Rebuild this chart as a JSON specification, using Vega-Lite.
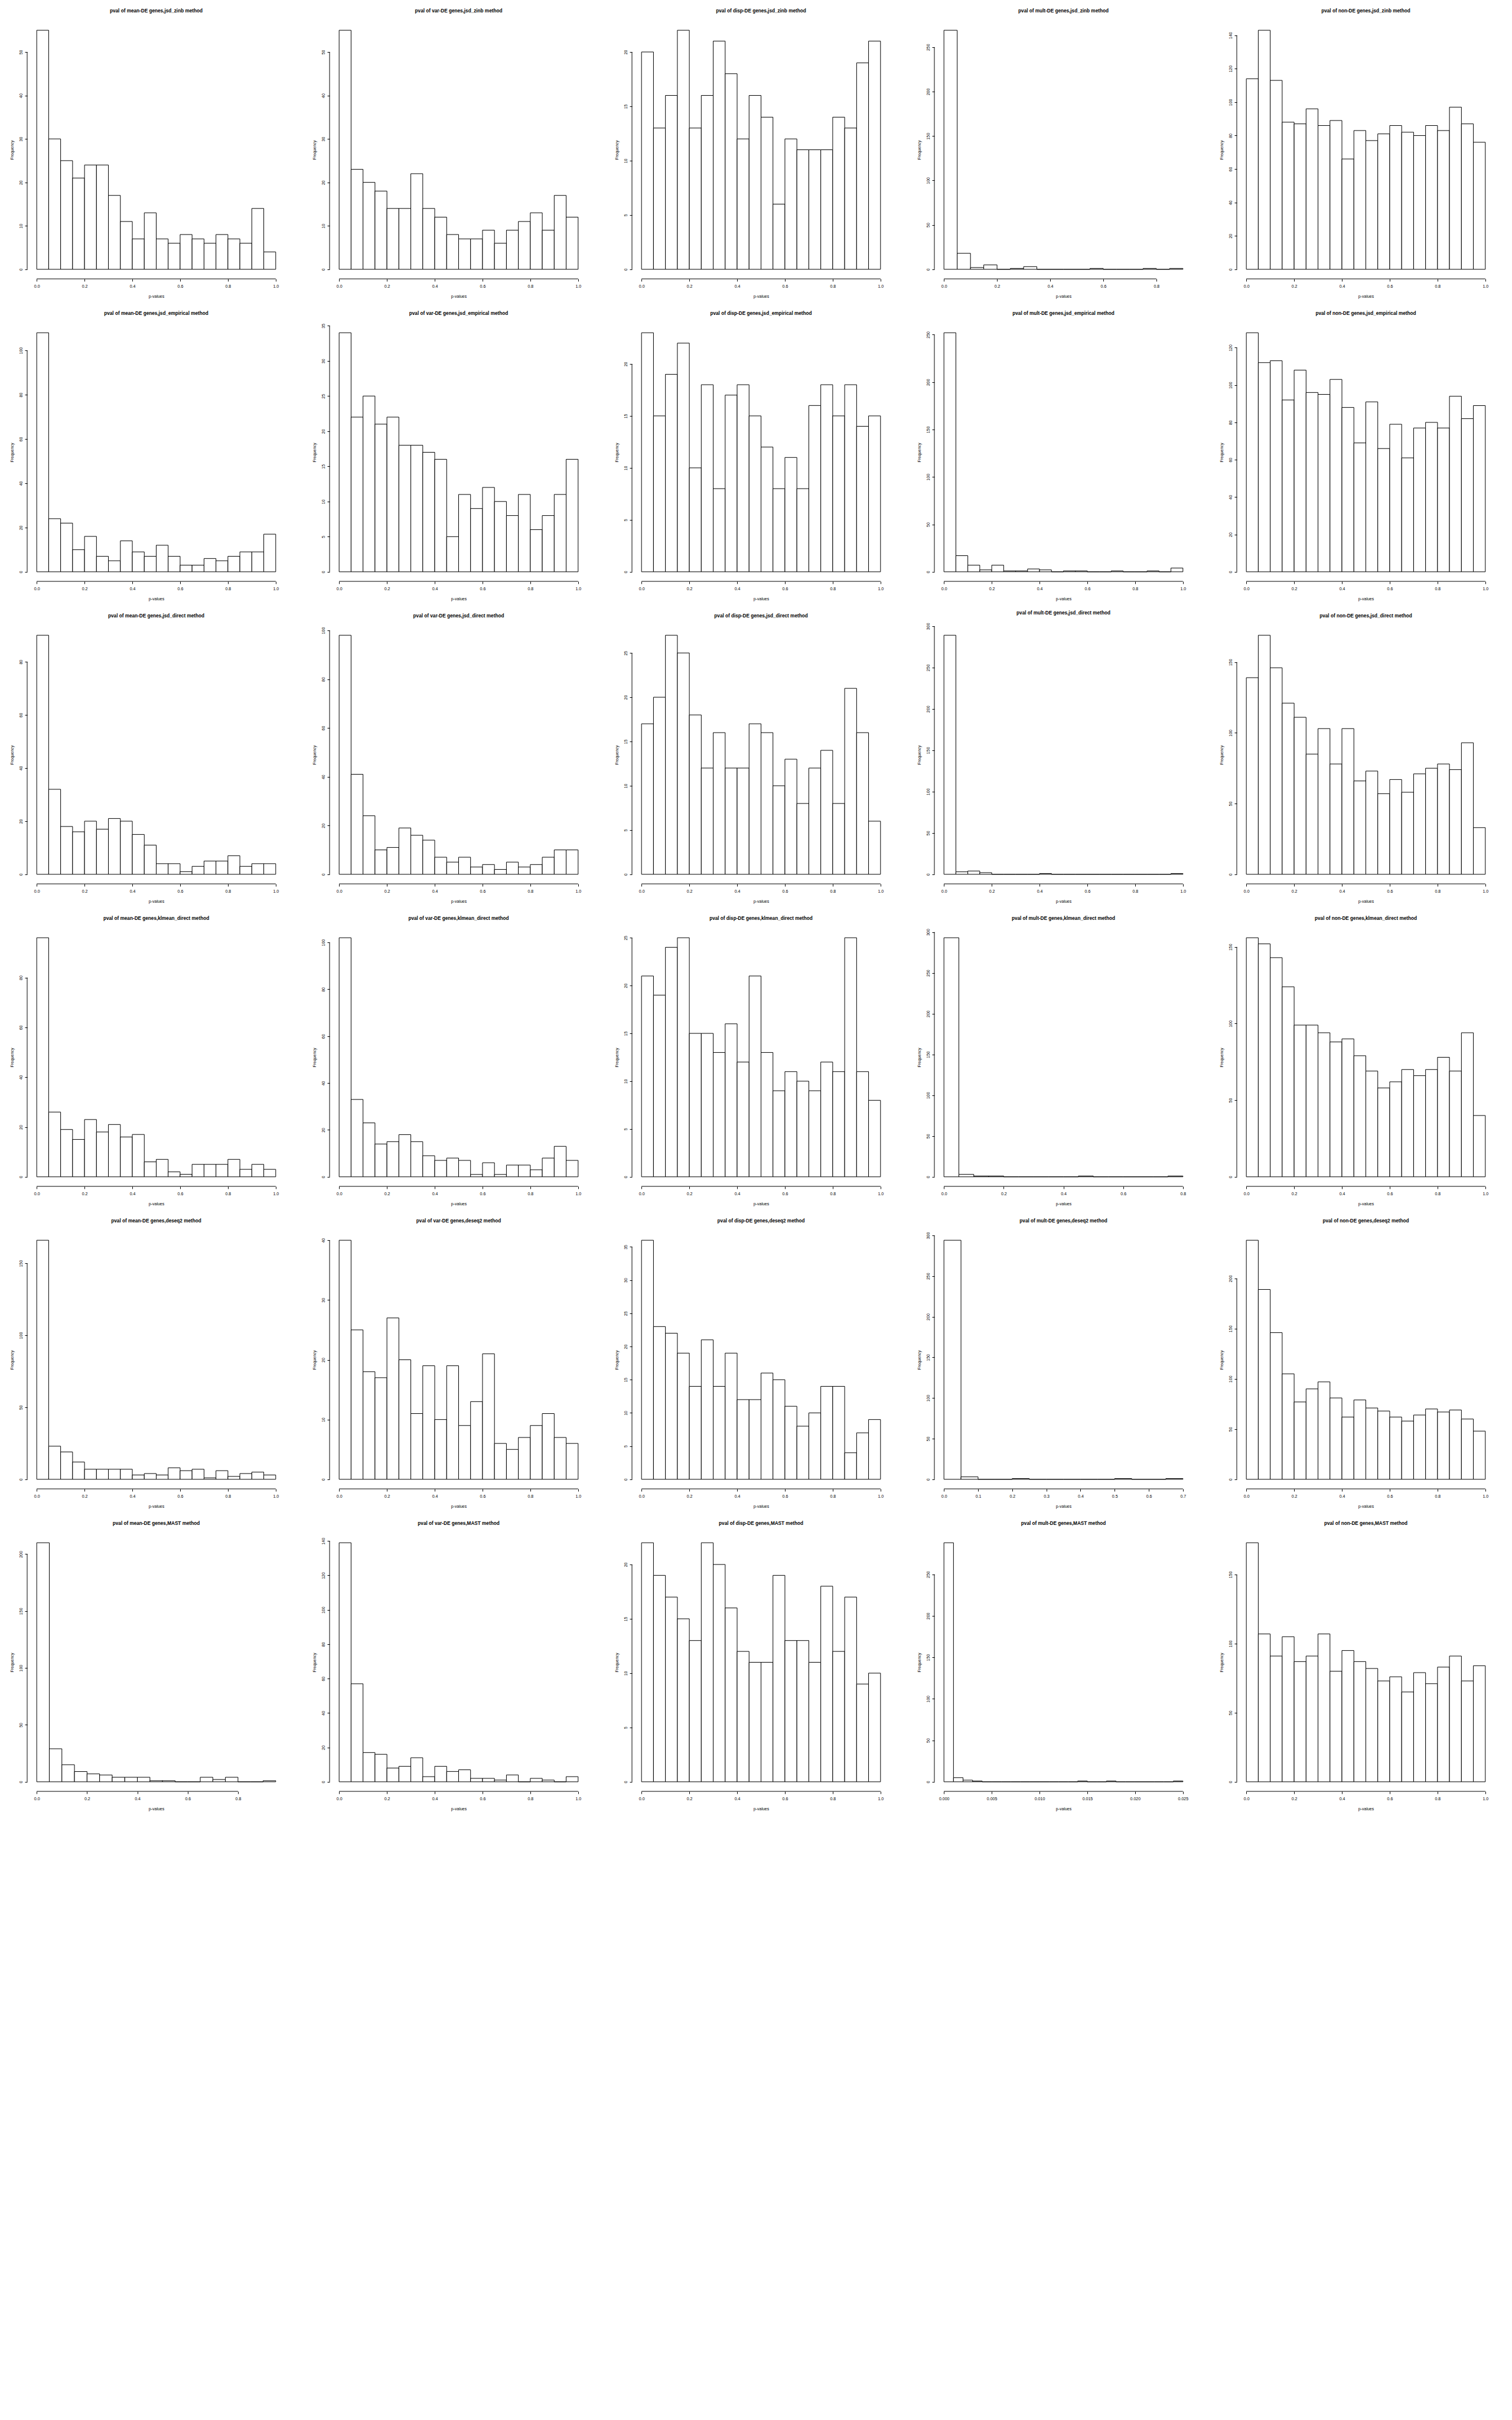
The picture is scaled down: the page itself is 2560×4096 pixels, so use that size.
{
"$schema": "https://vega.github.io/schema/vega-lite/v6.json",
"background": "white",
"autosize": {"type": "pad"},
"padding": {"left": 15, "top": 13, "right": 5, "bottom": 5},
"bounds": "flush",
"columns": 5,
"spacing": 75,
"datasets": {
"r1c1": [{"lo":0,"hi":0.05,"n":55},{"lo":0.05,"hi":0.1,"n":30},{"lo":0.1,"hi":0.15,"n":25},{"lo":0.15,"hi":0.2,"n":21},{"lo":0.2,"hi":0.25,"n":24},{"lo":0.25,"hi":0.3,"n":24},{"lo":0.3,"hi":0.35,"n":17},{"lo":0.35,"hi":0.4,"n":11},{"lo":0.4,"hi":0.45,"n":7},{"lo":0.45,"hi":0.5,"n":13},{"lo":0.5,"hi":0.55,"n":7},{"lo":0.55,"hi":0.6,"n":6},{"lo":0.6,"hi":0.65,"n":8},{"lo":0.65,"hi":0.7,"n":7},{"lo":0.7,"hi":0.75,"n":6},{"lo":0.75,"hi":0.8,"n":8},{"lo":0.8,"hi":0.85,"n":7},{"lo":0.85,"hi":0.9,"n":6},{"lo":0.9,"hi":0.95,"n":14},{"lo":0.95,"hi":1,"n":4}],
"r1c2": [{"lo":0,"hi":0.05,"n":55},{"lo":0.05,"hi":0.1,"n":23},{"lo":0.1,"hi":0.15,"n":20},{"lo":0.15,"hi":0.2,"n":18},{"lo":0.2,"hi":0.25,"n":14},{"lo":0.25,"hi":0.3,"n":14},{"lo":0.3,"hi":0.35,"n":22},{"lo":0.35,"hi":0.4,"n":14},{"lo":0.4,"hi":0.45,"n":12},{"lo":0.45,"hi":0.5,"n":8},{"lo":0.5,"hi":0.55,"n":7},{"lo":0.55,"hi":0.6,"n":7},{"lo":0.6,"hi":0.65,"n":9},{"lo":0.65,"hi":0.7,"n":6},{"lo":0.7,"hi":0.75,"n":9},{"lo":0.75,"hi":0.8,"n":11},{"lo":0.8,"hi":0.85,"n":13},{"lo":0.85,"hi":0.9,"n":9},{"lo":0.9,"hi":0.95,"n":17},{"lo":0.95,"hi":1,"n":12}],
"r1c3": [{"lo":0,"hi":0.05,"n":20},{"lo":0.05,"hi":0.1,"n":13},{"lo":0.1,"hi":0.15,"n":16},{"lo":0.15,"hi":0.2,"n":22},{"lo":0.2,"hi":0.25,"n":13},{"lo":0.25,"hi":0.3,"n":16},{"lo":0.3,"hi":0.35,"n":21},{"lo":0.35,"hi":0.4,"n":18},{"lo":0.4,"hi":0.45,"n":12},{"lo":0.45,"hi":0.5,"n":16},{"lo":0.5,"hi":0.55,"n":14},{"lo":0.55,"hi":0.6,"n":6},{"lo":0.6,"hi":0.65,"n":12},{"lo":0.65,"hi":0.7,"n":11},{"lo":0.7,"hi":0.75,"n":11},{"lo":0.75,"hi":0.8,"n":11},{"lo":0.8,"hi":0.85,"n":14},{"lo":0.85,"hi":0.9,"n":13},{"lo":0.9,"hi":0.95,"n":19},{"lo":0.95,"hi":1,"n":21}],
"r1c4": [{"lo":0,"hi":0.05,"n":269},{"lo":0.05,"hi":0.1,"n":18},{"lo":0.1,"hi":0.15,"n":2},{"lo":0.15,"hi":0.2,"n":5},{"lo":0.2,"hi":0.25,"n":0},{"lo":0.25,"hi":0.3,"n":1},{"lo":0.3,"hi":0.35,"n":3},{"lo":0.35,"hi":0.4,"n":0},{"lo":0.4,"hi":0.45,"n":0},{"lo":0.45,"hi":0.5,"n":0},{"lo":0.5,"hi":0.55,"n":0},{"lo":0.55,"hi":0.6,"n":1},{"lo":0.6,"hi":0.65,"n":0},{"lo":0.65,"hi":0.7,"n":0},{"lo":0.7,"hi":0.75,"n":0},{"lo":0.75,"hi":0.8,"n":1},{"lo":0.8,"hi":0.85,"n":0},{"lo":0.85,"hi":0.9,"n":1}],
"r1c5": [{"lo":0,"hi":0.05,"n":114},{"lo":0.05,"hi":0.1,"n":143},{"lo":0.1,"hi":0.15,"n":113},{"lo":0.15,"hi":0.2,"n":88},{"lo":0.2,"hi":0.25,"n":87},{"lo":0.25,"hi":0.3,"n":96},{"lo":0.3,"hi":0.35,"n":86},{"lo":0.35,"hi":0.4,"n":89},{"lo":0.4,"hi":0.45,"n":66},{"lo":0.45,"hi":0.5,"n":83},{"lo":0.5,"hi":0.55,"n":77},{"lo":0.55,"hi":0.6,"n":81},{"lo":0.6,"hi":0.65,"n":86},{"lo":0.65,"hi":0.7,"n":82},{"lo":0.7,"hi":0.75,"n":80},{"lo":0.75,"hi":0.8,"n":86},{"lo":0.8,"hi":0.85,"n":83},{"lo":0.85,"hi":0.9,"n":97},{"lo":0.9,"hi":0.95,"n":87},{"lo":0.95,"hi":1,"n":76}],
"r2c1": [{"lo":0,"hi":0.05,"n":108},{"lo":0.05,"hi":0.1,"n":24},{"lo":0.1,"hi":0.15,"n":22},{"lo":0.15,"hi":0.2,"n":10},{"lo":0.2,"hi":0.25,"n":16},{"lo":0.25,"hi":0.3,"n":7},{"lo":0.3,"hi":0.35,"n":5},{"lo":0.35,"hi":0.4,"n":14},{"lo":0.4,"hi":0.45,"n":9},{"lo":0.45,"hi":0.5,"n":7},{"lo":0.5,"hi":0.55,"n":12},{"lo":0.55,"hi":0.6,"n":7},{"lo":0.6,"hi":0.65,"n":3},{"lo":0.65,"hi":0.7,"n":3},{"lo":0.7,"hi":0.75,"n":6},{"lo":0.75,"hi":0.8,"n":5},{"lo":0.8,"hi":0.85,"n":7},{"lo":0.85,"hi":0.9,"n":9},{"lo":0.9,"hi":0.95,"n":9},{"lo":0.95,"hi":1,"n":17}],
"r2c2": [{"lo":0,"hi":0.05,"n":34},{"lo":0.05,"hi":0.1,"n":22},{"lo":0.1,"hi":0.15,"n":25},{"lo":0.15,"hi":0.2,"n":21},{"lo":0.2,"hi":0.25,"n":22},{"lo":0.25,"hi":0.3,"n":18},{"lo":0.3,"hi":0.35,"n":18},{"lo":0.35,"hi":0.4,"n":17},{"lo":0.4,"hi":0.45,"n":16},{"lo":0.45,"hi":0.5,"n":5},{"lo":0.5,"hi":0.55,"n":11},{"lo":0.55,"hi":0.6,"n":9},{"lo":0.6,"hi":0.65,"n":12},{"lo":0.65,"hi":0.7,"n":10},{"lo":0.7,"hi":0.75,"n":8},{"lo":0.75,"hi":0.8,"n":11},{"lo":0.8,"hi":0.85,"n":6},{"lo":0.85,"hi":0.9,"n":8},{"lo":0.9,"hi":0.95,"n":11},{"lo":0.95,"hi":1,"n":16}],
"r2c3": [{"lo":0,"hi":0.05,"n":23},{"lo":0.05,"hi":0.1,"n":15},{"lo":0.1,"hi":0.15,"n":19},{"lo":0.15,"hi":0.2,"n":22},{"lo":0.2,"hi":0.25,"n":10},{"lo":0.25,"hi":0.3,"n":18},{"lo":0.3,"hi":0.35,"n":8},{"lo":0.35,"hi":0.4,"n":17},{"lo":0.4,"hi":0.45,"n":18},{"lo":0.45,"hi":0.5,"n":15},{"lo":0.5,"hi":0.55,"n":12},{"lo":0.55,"hi":0.6,"n":8},{"lo":0.6,"hi":0.65,"n":11},{"lo":0.65,"hi":0.7,"n":8},{"lo":0.7,"hi":0.75,"n":16},{"lo":0.75,"hi":0.8,"n":18},{"lo":0.8,"hi":0.85,"n":15},{"lo":0.85,"hi":0.9,"n":18},{"lo":0.9,"hi":0.95,"n":14},{"lo":0.95,"hi":1,"n":15}],
"r2c4": [{"lo":0,"hi":0.05,"n":252},{"lo":0.05,"hi":0.1,"n":17},{"lo":0.1,"hi":0.15,"n":7},{"lo":0.15,"hi":0.2,"n":2},{"lo":0.2,"hi":0.25,"n":7},{"lo":0.25,"hi":0.3,"n":1},{"lo":0.3,"hi":0.35,"n":1},{"lo":0.35,"hi":0.4,"n":3},{"lo":0.4,"hi":0.45,"n":2},{"lo":0.45,"hi":0.5,"n":0},{"lo":0.5,"hi":0.55,"n":1},{"lo":0.55,"hi":0.6,"n":1},{"lo":0.6,"hi":0.65,"n":0},{"lo":0.65,"hi":0.7,"n":0},{"lo":0.7,"hi":0.75,"n":1},{"lo":0.75,"hi":0.8,"n":0},{"lo":0.8,"hi":0.85,"n":0},{"lo":0.85,"hi":0.9,"n":1},{"lo":0.9,"hi":0.95,"n":0},{"lo":0.95,"hi":1,"n":4}],
"r2c5": [{"lo":0,"hi":0.05,"n":128},{"lo":0.05,"hi":0.1,"n":112},{"lo":0.1,"hi":0.15,"n":113},{"lo":0.15,"hi":0.2,"n":92},{"lo":0.2,"hi":0.25,"n":108},{"lo":0.25,"hi":0.3,"n":96},{"lo":0.3,"hi":0.35,"n":95},{"lo":0.35,"hi":0.4,"n":103},{"lo":0.4,"hi":0.45,"n":88},{"lo":0.45,"hi":0.5,"n":69},{"lo":0.5,"hi":0.55,"n":91},{"lo":0.55,"hi":0.6,"n":66},{"lo":0.6,"hi":0.65,"n":79},{"lo":0.65,"hi":0.7,"n":61},{"lo":0.7,"hi":0.75,"n":77},{"lo":0.75,"hi":0.8,"n":80},{"lo":0.8,"hi":0.85,"n":77},{"lo":0.85,"hi":0.9,"n":94},{"lo":0.9,"hi":0.95,"n":82},{"lo":0.95,"hi":1,"n":89}],
"r3c1": [{"lo":0,"hi":0.05,"n":90},{"lo":0.05,"hi":0.1,"n":32},{"lo":0.1,"hi":0.15,"n":18},{"lo":0.15,"hi":0.2,"n":16},{"lo":0.2,"hi":0.25,"n":20},{"lo":0.25,"hi":0.3,"n":17},{"lo":0.3,"hi":0.35,"n":21},{"lo":0.35,"hi":0.4,"n":20},{"lo":0.4,"hi":0.45,"n":15},{"lo":0.45,"hi":0.5,"n":11},{"lo":0.5,"hi":0.55,"n":4},{"lo":0.55,"hi":0.6,"n":4},{"lo":0.6,"hi":0.65,"n":1},{"lo":0.65,"hi":0.7,"n":3},{"lo":0.7,"hi":0.75,"n":5},{"lo":0.75,"hi":0.8,"n":5},{"lo":0.8,"hi":0.85,"n":7},{"lo":0.85,"hi":0.9,"n":3},{"lo":0.9,"hi":0.95,"n":4},{"lo":0.95,"hi":1,"n":4}],
"r3c2": [{"lo":0,"hi":0.05,"n":98},{"lo":0.05,"hi":0.1,"n":41},{"lo":0.1,"hi":0.15,"n":24},{"lo":0.15,"hi":0.2,"n":10},{"lo":0.2,"hi":0.25,"n":11},{"lo":0.25,"hi":0.3,"n":19},{"lo":0.3,"hi":0.35,"n":16},{"lo":0.35,"hi":0.4,"n":14},{"lo":0.4,"hi":0.45,"n":7},{"lo":0.45,"hi":0.5,"n":5},{"lo":0.5,"hi":0.55,"n":7},{"lo":0.55,"hi":0.6,"n":3},{"lo":0.6,"hi":0.65,"n":4},{"lo":0.65,"hi":0.7,"n":2},{"lo":0.7,"hi":0.75,"n":5},{"lo":0.75,"hi":0.8,"n":3},{"lo":0.8,"hi":0.85,"n":4},{"lo":0.85,"hi":0.9,"n":7},{"lo":0.9,"hi":0.95,"n":10},{"lo":0.95,"hi":1,"n":10}],
"r3c3": [{"lo":0,"hi":0.05,"n":17},{"lo":0.05,"hi":0.1,"n":20},{"lo":0.1,"hi":0.15,"n":27},{"lo":0.15,"hi":0.2,"n":25},{"lo":0.2,"hi":0.25,"n":18},{"lo":0.25,"hi":0.3,"n":12},{"lo":0.3,"hi":0.35,"n":16},{"lo":0.35,"hi":0.4,"n":12},{"lo":0.4,"hi":0.45,"n":12},{"lo":0.45,"hi":0.5,"n":17},{"lo":0.5,"hi":0.55,"n":16},{"lo":0.55,"hi":0.6,"n":10},{"lo":0.6,"hi":0.65,"n":13},{"lo":0.65,"hi":0.7,"n":8},{"lo":0.7,"hi":0.75,"n":12},{"lo":0.75,"hi":0.8,"n":14},{"lo":0.8,"hi":0.85,"n":8},{"lo":0.85,"hi":0.9,"n":21},{"lo":0.9,"hi":0.95,"n":16},{"lo":0.95,"hi":1,"n":6}],
"r3c4": [{"lo":0,"hi":0.05,"n":289},{"lo":0.05,"hi":0.1,"n":3},{"lo":0.1,"hi":0.15,"n":4},{"lo":0.15,"hi":0.2,"n":2},{"lo":0.2,"hi":0.25,"n":0},{"lo":0.25,"hi":0.3,"n":0},{"lo":0.3,"hi":0.35,"n":0},{"lo":0.35,"hi":0.4,"n":0},{"lo":0.4,"hi":0.45,"n":1},{"lo":0.45,"hi":0.5,"n":0},{"lo":0.5,"hi":0.55,"n":0},{"lo":0.55,"hi":0.6,"n":0},{"lo":0.6,"hi":0.65,"n":0},{"lo":0.65,"hi":0.7,"n":0},{"lo":0.7,"hi":0.75,"n":0},{"lo":0.75,"hi":0.8,"n":0},{"lo":0.8,"hi":0.85,"n":0},{"lo":0.85,"hi":0.9,"n":0},{"lo":0.9,"hi":0.95,"n":0},{"lo":0.95,"hi":1,"n":1}],
"r3c5": [{"lo":0,"hi":0.05,"n":139},{"lo":0.05,"hi":0.1,"n":169},{"lo":0.1,"hi":0.15,"n":146},{"lo":0.15,"hi":0.2,"n":121},{"lo":0.2,"hi":0.25,"n":111},{"lo":0.25,"hi":0.3,"n":85},{"lo":0.3,"hi":0.35,"n":103},{"lo":0.35,"hi":0.4,"n":78},{"lo":0.4,"hi":0.45,"n":103},{"lo":0.45,"hi":0.5,"n":66},{"lo":0.5,"hi":0.55,"n":73},{"lo":0.55,"hi":0.6,"n":57},{"lo":0.6,"hi":0.65,"n":67},{"lo":0.65,"hi":0.7,"n":58},{"lo":0.7,"hi":0.75,"n":71},{"lo":0.75,"hi":0.8,"n":75},{"lo":0.8,"hi":0.85,"n":78},{"lo":0.85,"hi":0.9,"n":74},{"lo":0.9,"hi":0.95,"n":93},{"lo":0.95,"hi":1,"n":33}],
"r4c1": [{"lo":0,"hi":0.05,"n":96},{"lo":0.05,"hi":0.1,"n":26},{"lo":0.1,"hi":0.15,"n":19},{"lo":0.15,"hi":0.2,"n":15},{"lo":0.2,"hi":0.25,"n":23},{"lo":0.25,"hi":0.3,"n":18},{"lo":0.3,"hi":0.35,"n":21},{"lo":0.35,"hi":0.4,"n":16},{"lo":0.4,"hi":0.45,"n":17},{"lo":0.45,"hi":0.5,"n":6},{"lo":0.5,"hi":0.55,"n":7},{"lo":0.55,"hi":0.6,"n":2},{"lo":0.6,"hi":0.65,"n":1},{"lo":0.65,"hi":0.7,"n":5},{"lo":0.7,"hi":0.75,"n":5},{"lo":0.75,"hi":0.8,"n":5},{"lo":0.8,"hi":0.85,"n":7},{"lo":0.85,"hi":0.9,"n":3},{"lo":0.9,"hi":0.95,"n":5},{"lo":0.95,"hi":1,"n":3}],
"r4c2": [{"lo":0,"hi":0.05,"n":102},{"lo":0.05,"hi":0.1,"n":33},{"lo":0.1,"hi":0.15,"n":23},{"lo":0.15,"hi":0.2,"n":14},{"lo":0.2,"hi":0.25,"n":15},{"lo":0.25,"hi":0.3,"n":18},{"lo":0.3,"hi":0.35,"n":15},{"lo":0.35,"hi":0.4,"n":9},{"lo":0.4,"hi":0.45,"n":7},{"lo":0.45,"hi":0.5,"n":8},{"lo":0.5,"hi":0.55,"n":7},{"lo":0.55,"hi":0.6,"n":1},{"lo":0.6,"hi":0.65,"n":6},{"lo":0.65,"hi":0.7,"n":1},{"lo":0.7,"hi":0.75,"n":5},{"lo":0.75,"hi":0.8,"n":5},{"lo":0.8,"hi":0.85,"n":3},{"lo":0.85,"hi":0.9,"n":8},{"lo":0.9,"hi":0.95,"n":13},{"lo":0.95,"hi":1,"n":7}],
"r4c3": [{"lo":0,"hi":0.05,"n":21},{"lo":0.05,"hi":0.1,"n":19},{"lo":0.1,"hi":0.15,"n":24},{"lo":0.15,"hi":0.2,"n":25},{"lo":0.2,"hi":0.25,"n":15},{"lo":0.25,"hi":0.3,"n":15},{"lo":0.3,"hi":0.35,"n":13},{"lo":0.35,"hi":0.4,"n":16},{"lo":0.4,"hi":0.45,"n":12},{"lo":0.45,"hi":0.5,"n":21},{"lo":0.5,"hi":0.55,"n":13},{"lo":0.55,"hi":0.6,"n":9},{"lo":0.6,"hi":0.65,"n":11},{"lo":0.65,"hi":0.7,"n":10},{"lo":0.7,"hi":0.75,"n":9},{"lo":0.75,"hi":0.8,"n":12},{"lo":0.8,"hi":0.85,"n":11},{"lo":0.85,"hi":0.9,"n":25},{"lo":0.9,"hi":0.95,"n":11},{"lo":0.95,"hi":1,"n":8}],
"r4c4": [{"lo":0,"hi":0.05,"n":293},{"lo":0.05,"hi":0.1,"n":3},{"lo":0.1,"hi":0.15,"n":1},{"lo":0.15,"hi":0.2,"n":1},{"lo":0.2,"hi":0.25,"n":0},{"lo":0.25,"hi":0.3,"n":0},{"lo":0.3,"hi":0.35,"n":0},{"lo":0.35,"hi":0.4,"n":0},{"lo":0.4,"hi":0.45,"n":0},{"lo":0.45,"hi":0.5,"n":1},{"lo":0.5,"hi":0.55,"n":0},{"lo":0.55,"hi":0.6,"n":0},{"lo":0.6,"hi":0.65,"n":0},{"lo":0.65,"hi":0.7,"n":0},{"lo":0.7,"hi":0.75,"n":0},{"lo":0.75,"hi":0.8,"n":1}],
"r4c5": [{"lo":0,"hi":0.05,"n":156},{"lo":0.05,"hi":0.1,"n":152},{"lo":0.1,"hi":0.15,"n":143},{"lo":0.15,"hi":0.2,"n":124},{"lo":0.2,"hi":0.25,"n":99},{"lo":0.25,"hi":0.3,"n":99},{"lo":0.3,"hi":0.35,"n":94},{"lo":0.35,"hi":0.4,"n":88},{"lo":0.4,"hi":0.45,"n":90},{"lo":0.45,"hi":0.5,"n":79},{"lo":0.5,"hi":0.55,"n":69},{"lo":0.55,"hi":0.6,"n":58},{"lo":0.6,"hi":0.65,"n":62},{"lo":0.65,"hi":0.7,"n":70},{"lo":0.7,"hi":0.75,"n":66},{"lo":0.75,"hi":0.8,"n":70},{"lo":0.8,"hi":0.85,"n":78},{"lo":0.85,"hi":0.9,"n":69},{"lo":0.9,"hi":0.95,"n":94},{"lo":0.95,"hi":1,"n":40}],
"r5c1": [{"lo":0,"hi":0.05,"n":166},{"lo":0.05,"hi":0.1,"n":23},{"lo":0.1,"hi":0.15,"n":19},{"lo":0.15,"hi":0.2,"n":12},{"lo":0.2,"hi":0.25,"n":7},{"lo":0.25,"hi":0.3,"n":7},{"lo":0.3,"hi":0.35,"n":7},{"lo":0.35,"hi":0.4,"n":7},{"lo":0.4,"hi":0.45,"n":3},{"lo":0.45,"hi":0.5,"n":4},{"lo":0.5,"hi":0.55,"n":3},{"lo":0.55,"hi":0.6,"n":8},{"lo":0.6,"hi":0.65,"n":6},{"lo":0.65,"hi":0.7,"n":7},{"lo":0.7,"hi":0.75,"n":1},{"lo":0.75,"hi":0.8,"n":6},{"lo":0.8,"hi":0.85,"n":2},{"lo":0.85,"hi":0.9,"n":4},{"lo":0.9,"hi":0.95,"n":5},{"lo":0.95,"hi":1,"n":3}],
"r5c2": [{"lo":0,"hi":0.05,"n":40},{"lo":0.05,"hi":0.1,"n":25},{"lo":0.1,"hi":0.15,"n":18},{"lo":0.15,"hi":0.2,"n":17},{"lo":0.2,"hi":0.25,"n":27},{"lo":0.25,"hi":0.3,"n":20},{"lo":0.3,"hi":0.35,"n":11},{"lo":0.35,"hi":0.4,"n":19},{"lo":0.4,"hi":0.45,"n":10},{"lo":0.45,"hi":0.5,"n":19},{"lo":0.5,"hi":0.55,"n":9},{"lo":0.55,"hi":0.6,"n":13},{"lo":0.6,"hi":0.65,"n":21},{"lo":0.65,"hi":0.7,"n":6},{"lo":0.7,"hi":0.75,"n":5},{"lo":0.75,"hi":0.8,"n":7},{"lo":0.8,"hi":0.85,"n":9},{"lo":0.85,"hi":0.9,"n":11},{"lo":0.9,"hi":0.95,"n":7},{"lo":0.95,"hi":1,"n":6}],
"r5c3": [{"lo":0,"hi":0.05,"n":36},{"lo":0.05,"hi":0.1,"n":23},{"lo":0.1,"hi":0.15,"n":22},{"lo":0.15,"hi":0.2,"n":19},{"lo":0.2,"hi":0.25,"n":14},{"lo":0.25,"hi":0.3,"n":21},{"lo":0.3,"hi":0.35,"n":14},{"lo":0.35,"hi":0.4,"n":19},{"lo":0.4,"hi":0.45,"n":12},{"lo":0.45,"hi":0.5,"n":12},{"lo":0.5,"hi":0.55,"n":16},{"lo":0.55,"hi":0.6,"n":15},{"lo":0.6,"hi":0.65,"n":11},{"lo":0.65,"hi":0.7,"n":8},{"lo":0.7,"hi":0.75,"n":10},{"lo":0.75,"hi":0.8,"n":14},{"lo":0.8,"hi":0.85,"n":14},{"lo":0.85,"hi":0.9,"n":4},{"lo":0.9,"hi":0.95,"n":7},{"lo":0.95,"hi":1,"n":9}],
"r5c4": [{"lo":0,"hi":0.05,"n":294},{"lo":0.05,"hi":0.1,"n":3},{"lo":0.1,"hi":0.15,"n":0},{"lo":0.15,"hi":0.2,"n":0},{"lo":0.2,"hi":0.25,"n":1},{"lo":0.25,"hi":0.3,"n":0},{"lo":0.3,"hi":0.35,"n":0},{"lo":0.35,"hi":0.4,"n":0},{"lo":0.4,"hi":0.45,"n":0},{"lo":0.45,"hi":0.5,"n":0},{"lo":0.5,"hi":0.55,"n":1},{"lo":0.55,"hi":0.6,"n":0},{"lo":0.6,"hi":0.65,"n":0},{"lo":0.65,"hi":0.7,"n":1}],
"r5c5": [{"lo":0,"hi":0.05,"n":238},{"lo":0.05,"hi":0.1,"n":189},{"lo":0.1,"hi":0.15,"n":146},{"lo":0.15,"hi":0.2,"n":105},{"lo":0.2,"hi":0.25,"n":77},{"lo":0.25,"hi":0.3,"n":90},{"lo":0.3,"hi":0.35,"n":97},{"lo":0.35,"hi":0.4,"n":81},{"lo":0.4,"hi":0.45,"n":62},{"lo":0.45,"hi":0.5,"n":79},{"lo":0.5,"hi":0.55,"n":71},{"lo":0.55,"hi":0.6,"n":68},{"lo":0.6,"hi":0.65,"n":62},{"lo":0.65,"hi":0.7,"n":58},{"lo":0.7,"hi":0.75,"n":64},{"lo":0.75,"hi":0.8,"n":70},{"lo":0.8,"hi":0.85,"n":67},{"lo":0.85,"hi":0.9,"n":69},{"lo":0.9,"hi":0.95,"n":60},{"lo":0.95,"hi":1,"n":48}],
"r6c1": [{"lo":0,"hi":0.05,"n":210},{"lo":0.05,"hi":0.1,"n":29},{"lo":0.1,"hi":0.15,"n":15},{"lo":0.15,"hi":0.2,"n":9},{"lo":0.2,"hi":0.25,"n":7},{"lo":0.25,"hi":0.3,"n":6},{"lo":0.3,"hi":0.35,"n":4},{"lo":0.35,"hi":0.4,"n":4},{"lo":0.4,"hi":0.45,"n":4},{"lo":0.45,"hi":0.5,"n":1},{"lo":0.5,"hi":0.55,"n":1},{"lo":0.55,"hi":0.6,"n":0},{"lo":0.6,"hi":0.65,"n":0},{"lo":0.65,"hi":0.7,"n":4},{"lo":0.7,"hi":0.75,"n":2},{"lo":0.75,"hi":0.8,"n":4},{"lo":0.8,"hi":0.85,"n":0},{"lo":0.85,"hi":0.9,"n":0},{"lo":0.9,"hi":0.95,"n":1}],
"r6c2": [{"lo":0,"hi":0.05,"n":139},{"lo":0.05,"hi":0.1,"n":57},{"lo":0.1,"hi":0.15,"n":17},{"lo":0.15,"hi":0.2,"n":16},{"lo":0.2,"hi":0.25,"n":8},{"lo":0.25,"hi":0.3,"n":9},{"lo":0.3,"hi":0.35,"n":14},{"lo":0.35,"hi":0.4,"n":3},{"lo":0.4,"hi":0.45,"n":9},{"lo":0.45,"hi":0.5,"n":6},{"lo":0.5,"hi":0.55,"n":7},{"lo":0.55,"hi":0.6,"n":2},{"lo":0.6,"hi":0.65,"n":2},{"lo":0.65,"hi":0.7,"n":1},{"lo":0.7,"hi":0.75,"n":4},{"lo":0.75,"hi":0.8,"n":0},{"lo":0.8,"hi":0.85,"n":2},{"lo":0.85,"hi":0.9,"n":1},{"lo":0.9,"hi":0.95,"n":0},{"lo":0.95,"hi":1,"n":3}],
"r6c3": [{"lo":0,"hi":0.05,"n":22},{"lo":0.05,"hi":0.1,"n":19},{"lo":0.1,"hi":0.15,"n":17},{"lo":0.15,"hi":0.2,"n":15},{"lo":0.2,"hi":0.25,"n":13},{"lo":0.25,"hi":0.3,"n":22},{"lo":0.3,"hi":0.35,"n":20},{"lo":0.35,"hi":0.4,"n":16},{"lo":0.4,"hi":0.45,"n":12},{"lo":0.45,"hi":0.5,"n":11},{"lo":0.5,"hi":0.55,"n":11},{"lo":0.55,"hi":0.6,"n":19},{"lo":0.6,"hi":0.65,"n":13},{"lo":0.65,"hi":0.7,"n":13},{"lo":0.7,"hi":0.75,"n":11},{"lo":0.75,"hi":0.8,"n":18},{"lo":0.8,"hi":0.85,"n":12},{"lo":0.85,"hi":0.9,"n":17},{"lo":0.9,"hi":0.95,"n":9},{"lo":0.95,"hi":1,"n":10}],
"r6c4": [{"lo":0,"hi":0.001,"n":288},{"lo":0.001,"hi":0.002,"n":5},{"lo":0.002,"hi":0.003,"n":2},{"lo":0.003,"hi":0.004,"n":1},{"lo":0.004,"hi":0.005,"n":0},{"lo":0.005,"hi":0.006,"n":0},{"lo":0.006,"hi":0.007,"n":0},{"lo":0.007,"hi":0.008,"n":0},{"lo":0.008,"hi":0.009,"n":0},{"lo":0.009,"hi":0.01,"n":0},{"lo":0.01,"hi":0.011,"n":0},{"lo":0.011,"hi":0.012,"n":0},{"lo":0.012,"hi":0.013,"n":0},{"lo":0.013,"hi":0.014,"n":0},{"lo":0.014,"hi":0.015,"n":1},{"lo":0.015,"hi":0.016,"n":0},{"lo":0.016,"hi":0.017,"n":0},{"lo":0.017,"hi":0.018,"n":1},{"lo":0.018,"hi":0.019,"n":0},{"lo":0.019,"hi":0.02,"n":0},{"lo":0.02,"hi":0.021,"n":0},{"lo":0.021,"hi":0.022,"n":0},{"lo":0.022,"hi":0.023,"n":0},{"lo":0.023,"hi":0.024,"n":0},{"lo":0.024,"hi":0.025,"n":1}],
"r6c5": [{"lo":0,"hi":0.05,"n":173},{"lo":0.05,"hi":0.1,"n":107},{"lo":0.1,"hi":0.15,"n":91},{"lo":0.15,"hi":0.2,"n":105},{"lo":0.2,"hi":0.25,"n":87},{"lo":0.25,"hi":0.3,"n":91},{"lo":0.3,"hi":0.35,"n":107},{"lo":0.35,"hi":0.4,"n":80},{"lo":0.4,"hi":0.45,"n":95},{"lo":0.45,"hi":0.5,"n":87},{"lo":0.5,"hi":0.55,"n":82},{"lo":0.55,"hi":0.6,"n":73},{"lo":0.6,"hi":0.65,"n":76},{"lo":0.65,"hi":0.7,"n":65},{"lo":0.7,"hi":0.75,"n":79},{"lo":0.75,"hi":0.8,"n":71},{"lo":0.8,"hi":0.85,"n":83},{"lo":0.85,"hi":0.9,"n":91},{"lo":0.9,"hi":0.95,"n":73},{"lo":0.95,"hi":1,"n":84}]
},
"concat": [
{"title":"pval of mean-DE genes,jsd_zinb method","width":437,"height":437,"layer":[
{"data":{"name":"r1c1"},"mark":{"type":"rect","fill":"white","stroke":"black","strokeWidth":1},"encoding":{"x":{"field":"lo","type":"quantitative","scale":{"domain":[-0.04,1.04],"nice":false,"zero":false},"axis":{"values":[0,0.2,0.4,0.6,0.8,1],"format":".1f","title":"p-values"}},"x2":{"field":"hi"},"y":{"field":"n","type":"quantitative","scale":{"domain":[-2.2,57.2],"nice":false,"zero":false},"axis":{"values":[0,10,20,30,40,50],"format":"d","title":"Frequency"}},"y2":{"datum":0}}},
{"data":{"values":[{}]},"mark":{"type":"rule","color":"black","strokeWidth":1},"encoding":{"x":{"datum":0,"type":"quantitative"},"x2":{"datum":1},"y":{"datum":-2.2,"type":"quantitative"}}},
{"data":{"values":[{}]},"mark":{"type":"rule","color":"black","strokeWidth":1},"encoding":{"x":{"datum":-0.04,"type":"quantitative"},"y":{"datum":0,"type":"quantitative"},"y2":{"datum":50}}}]},
{"title":"pval of var-DE genes,jsd_zinb method","width":437,"height":437,"layer":[
{"data":{"name":"r1c2"},"mark":{"type":"rect","fill":"white","stroke":"black","strokeWidth":1},"encoding":{"x":{"field":"lo","type":"quantitative","scale":{"domain":[-0.04,1.04],"nice":false,"zero":false},"axis":{"values":[0,0.2,0.4,0.6,0.8,1],"format":".1f","title":"p-values"}},"x2":{"field":"hi"},"y":{"field":"n","type":"quantitative","scale":{"domain":[-2.2,57.2],"nice":false,"zero":false},"axis":{"values":[0,10,20,30,40,50],"format":"d","title":"Frequency"}},"y2":{"datum":0}}},
{"data":{"values":[{}]},"mark":{"type":"rule","color":"black","strokeWidth":1},"encoding":{"x":{"datum":0,"type":"quantitative"},"x2":{"datum":1},"y":{"datum":-2.2,"type":"quantitative"}}},
{"data":{"values":[{}]},"mark":{"type":"rule","color":"black","strokeWidth":1},"encoding":{"x":{"datum":-0.04,"type":"quantitative"},"y":{"datum":0,"type":"quantitative"},"y2":{"datum":50}}}]},
{"title":"pval of disp-DE genes,jsd_zinb method","width":437,"height":437,"layer":[
{"data":{"name":"r1c3"},"mark":{"type":"rect","fill":"white","stroke":"black","strokeWidth":1},"encoding":{"x":{"field":"lo","type":"quantitative","scale":{"domain":[-0.04,1.04],"nice":false,"zero":false},"axis":{"values":[0,0.2,0.4,0.6,0.8,1],"format":".1f","title":"p-values"}},"x2":{"field":"hi"},"y":{"field":"n","type":"quantitative","scale":{"domain":[-0.88,22.88],"nice":false,"zero":false},"axis":{"values":[0,5,10,15,20],"format":"d","title":"Frequency"}},"y2":{"datum":0}}},
{"data":{"values":[{}]},"mark":{"type":"rule","color":"black","strokeWidth":1},"encoding":{"x":{"datum":0,"type":"quantitative"},"x2":{"datum":1},"y":{"datum":-0.88,"type":"quantitative"}}},
{"data":{"values":[{}]},"mark":{"type":"rule","color":"black","strokeWidth":1},"encoding":{"x":{"datum":-0.04,"type":"quantitative"},"y":{"datum":0,"type":"quantitative"},"y2":{"datum":20}}}]},
{"title":"pval of mult-DE genes,jsd_zinb method","width":437,"height":437,"layer":[
{"data":{"name":"r1c4"},"mark":{"type":"rect","fill":"white","stroke":"black","strokeWidth":1},"encoding":{"x":{"field":"lo","type":"quantitative","scale":{"domain":[-0.036,0.936],"nice":false,"zero":false},"axis":{"values":[0,0.2,0.4,0.6,0.8],"format":".1f","title":"p-values"}},"x2":{"field":"hi"},"y":{"field":"n","type":"quantitative","scale":{"domain":[-10.76,279.76],"nice":false,"zero":false},"axis":{"values":[0,50,100,150,200,250],"format":"d","title":"Frequency"}},"y2":{"datum":0}}},
{"data":{"values":[{}]},"mark":{"type":"rule","color":"black","strokeWidth":1},"encoding":{"x":{"datum":0,"type":"quantitative"},"x2":{"datum":0.8},"y":{"datum":-10.76,"type":"quantitative"}}},
{"data":{"values":[{}]},"mark":{"type":"rule","color":"black","strokeWidth":1},"encoding":{"x":{"datum":-0.036,"type":"quantitative"},"y":{"datum":0,"type":"quantitative"},"y2":{"datum":250}}}]},
{"title":"pval of non-DE genes,jsd_zinb method","width":437,"height":437,"layer":[
{"data":{"name":"r1c5"},"mark":{"type":"rect","fill":"white","stroke":"black","strokeWidth":1},"encoding":{"x":{"field":"lo","type":"quantitative","scale":{"domain":[-0.04,1.04],"nice":false,"zero":false},"axis":{"values":[0,0.2,0.4,0.6,0.8,1],"format":".1f","title":"p-values"}},"x2":{"field":"hi"},"y":{"field":"n","type":"quantitative","scale":{"domain":[-5.72,148.72],"nice":false,"zero":false},"axis":{"values":[0,20,40,60,80,100,120,140],"format":"d","title":"Frequency"}},"y2":{"datum":0}}},
{"data":{"values":[{}]},"mark":{"type":"rule","color":"black","strokeWidth":1},"encoding":{"x":{"datum":0,"type":"quantitative"},"x2":{"datum":1},"y":{"datum":-5.72,"type":"quantitative"}}},
{"data":{"values":[{}]},"mark":{"type":"rule","color":"black","strokeWidth":1},"encoding":{"x":{"datum":-0.04,"type":"quantitative"},"y":{"datum":0,"type":"quantitative"},"y2":{"datum":140}}}]},

{"title":"pval of mean-DE genes,jsd_empirical method","width":437,"height":437,"layer":[
{"data":{"name":"r2c1"},"mark":{"type":"rect","fill":"white","stroke":"black","strokeWidth":1},"encoding":{"x":{"field":"lo","type":"quantitative","scale":{"domain":[-0.04,1.04],"nice":false,"zero":false},"axis":{"values":[0,0.2,0.4,0.6,0.8,1],"format":".1f","title":"p-values"}},"x2":{"field":"hi"},"y":{"field":"n","type":"quantitative","scale":{"domain":[-4.32,112.32],"nice":false,"zero":false},"axis":{"values":[0,20,40,60,80,100],"format":"d","title":"Frequency"}},"y2":{"datum":0}}},
{"data":{"values":[{}]},"mark":{"type":"rule","color":"black","strokeWidth":1},"encoding":{"x":{"datum":0,"type":"quantitative"},"x2":{"datum":1},"y":{"datum":-4.32,"type":"quantitative"}}},
{"data":{"values":[{}]},"mark":{"type":"rule","color":"black","strokeWidth":1},"encoding":{"x":{"datum":-0.04,"type":"quantitative"},"y":{"datum":0,"type":"quantitative"},"y2":{"datum":100}}}]},
{"title":"pval of var-DE genes,jsd_empirical method","width":437,"height":437,"layer":[
{"data":{"name":"r2c2"},"mark":{"type":"rect","fill":"white","stroke":"black","strokeWidth":1},"encoding":{"x":{"field":"lo","type":"quantitative","scale":{"domain":[-0.04,1.04],"nice":false,"zero":false},"axis":{"values":[0,0.2,0.4,0.6,0.8,1],"format":".1f","title":"p-values"}},"x2":{"field":"hi"},"y":{"field":"n","type":"quantitative","scale":{"domain":[-1.36,35.36],"nice":false,"zero":false},"axis":{"values":[0,5,10,15,20,25,30,35],"format":"d","title":"Frequency"}},"y2":{"datum":0}}},
{"data":{"values":[{}]},"mark":{"type":"rule","color":"black","strokeWidth":1},"encoding":{"x":{"datum":0,"type":"quantitative"},"x2":{"datum":1},"y":{"datum":-1.36,"type":"quantitative"}}},
{"data":{"values":[{}]},"mark":{"type":"rule","color":"black","strokeWidth":1},"encoding":{"x":{"datum":-0.04,"type":"quantitative"},"y":{"datum":0,"type":"quantitative"},"y2":{"datum":35}}}]},
{"title":"pval of disp-DE genes,jsd_empirical method","width":437,"height":437,"layer":[
{"data":{"name":"r2c3"},"mark":{"type":"rect","fill":"white","stroke":"black","strokeWidth":1},"encoding":{"x":{"field":"lo","type":"quantitative","scale":{"domain":[-0.04,1.04],"nice":false,"zero":false},"axis":{"values":[0,0.2,0.4,0.6,0.8,1],"format":".1f","title":"p-values"}},"x2":{"field":"hi"},"y":{"field":"n","type":"quantitative","scale":{"domain":[-0.92,23.92],"nice":false,"zero":false},"axis":{"values":[0,5,10,15,20],"format":"d","title":"Frequency"}},"y2":{"datum":0}}},
{"data":{"values":[{}]},"mark":{"type":"rule","color":"black","strokeWidth":1},"encoding":{"x":{"datum":0,"type":"quantitative"},"x2":{"datum":1},"y":{"datum":-0.92,"type":"quantitative"}}},
{"data":{"values":[{}]},"mark":{"type":"rule","color":"black","strokeWidth":1},"encoding":{"x":{"datum":-0.04,"type":"quantitative"},"y":{"datum":0,"type":"quantitative"},"y2":{"datum":20}}}]},
{"title":"pval of mult-DE genes,jsd_empirical method","width":437,"height":437,"layer":[
{"data":{"name":"r2c4"},"mark":{"type":"rect","fill":"white","stroke":"black","strokeWidth":1},"encoding":{"x":{"field":"lo","type":"quantitative","scale":{"domain":[-0.04,1.04],"nice":false,"zero":false},"axis":{"values":[0,0.2,0.4,0.6,0.8,1],"format":".1f","title":"p-values"}},"x2":{"field":"hi"},"y":{"field":"n","type":"quantitative","scale":{"domain":[-10.08,262.08],"nice":false,"zero":false},"axis":{"values":[0,50,100,150,200,250],"format":"d","title":"Frequency"}},"y2":{"datum":0}}},
{"data":{"values":[{}]},"mark":{"type":"rule","color":"black","strokeWidth":1},"encoding":{"x":{"datum":0,"type":"quantitative"},"x2":{"datum":1},"y":{"datum":-10.08,"type":"quantitative"}}},
{"data":{"values":[{}]},"mark":{"type":"rule","color":"black","strokeWidth":1},"encoding":{"x":{"datum":-0.04,"type":"quantitative"},"y":{"datum":0,"type":"quantitative"},"y2":{"datum":250}}}]},
{"title":"pval of non-DE genes,jsd_empirical method","width":437,"height":437,"layer":[
{"data":{"name":"r2c5"},"mark":{"type":"rect","fill":"white","stroke":"black","strokeWidth":1},"encoding":{"x":{"field":"lo","type":"quantitative","scale":{"domain":[-0.04,1.04],"nice":false,"zero":false},"axis":{"values":[0,0.2,0.4,0.6,0.8,1],"format":".1f","title":"p-values"}},"x2":{"field":"hi"},"y":{"field":"n","type":"quantitative","scale":{"domain":[-5.12,133.12],"nice":false,"zero":false},"axis":{"values":[0,20,40,60,80,100,120],"format":"d","title":"Frequency"}},"y2":{"datum":0}}},
{"data":{"values":[{}]},"mark":{"type":"rule","color":"black","strokeWidth":1},"encoding":{"x":{"datum":0,"type":"quantitative"},"x2":{"datum":1},"y":{"datum":-5.12,"type":"quantitative"}}},
{"data":{"values":[{}]},"mark":{"type":"rule","color":"black","strokeWidth":1},"encoding":{"x":{"datum":-0.04,"type":"quantitative"},"y":{"datum":0,"type":"quantitative"},"y2":{"datum":120}}}]},

{"title":"pval of mean-DE genes,jsd_direct method","width":437,"height":437,"layer":[
{"data":{"name":"r3c1"},"mark":{"type":"rect","fill":"white","stroke":"black","strokeWidth":1},"encoding":{"x":{"field":"lo","type":"quantitative","scale":{"domain":[-0.04,1.04],"nice":false,"zero":false},"axis":{"values":[0,0.2,0.4,0.6,0.8,1],"format":".1f","title":"p-values"}},"x2":{"field":"hi"},"y":{"field":"n","type":"quantitative","scale":{"domain":[-3.6,93.6],"nice":false,"zero":false},"axis":{"values":[0,20,40,60,80],"format":"d","title":"Frequency"}},"y2":{"datum":0}}},
{"data":{"values":[{}]},"mark":{"type":"rule","color":"black","strokeWidth":1},"encoding":{"x":{"datum":0,"type":"quantitative"},"x2":{"datum":1},"y":{"datum":-3.6,"type":"quantitative"}}},
{"data":{"values":[{}]},"mark":{"type":"rule","color":"black","strokeWidth":1},"encoding":{"x":{"datum":-0.04,"type":"quantitative"},"y":{"datum":0,"type":"quantitative"},"y2":{"datum":80}}}]},
{"title":"pval of var-DE genes,jsd_direct method","width":437,"height":437,"layer":[
{"data":{"name":"r3c2"},"mark":{"type":"rect","fill":"white","stroke":"black","strokeWidth":1},"encoding":{"x":{"field":"lo","type":"quantitative","scale":{"domain":[-0.04,1.04],"nice":false,"zero":false},"axis":{"values":[0,0.2,0.4,0.6,0.8,1],"format":".1f","title":"p-values"}},"x2":{"field":"hi"},"y":{"field":"n","type":"quantitative","scale":{"domain":[-3.92,101.92],"nice":false,"zero":false},"axis":{"values":[0,20,40,60,80,100],"format":"d","title":"Frequency"}},"y2":{"datum":0}}},
{"data":{"values":[{}]},"mark":{"type":"rule","color":"black","strokeWidth":1},"encoding":{"x":{"datum":0,"type":"quantitative"},"x2":{"datum":1},"y":{"datum":-3.92,"type":"quantitative"}}},
{"data":{"values":[{}]},"mark":{"type":"rule","color":"black","strokeWidth":1},"encoding":{"x":{"datum":-0.04,"type":"quantitative"},"y":{"datum":0,"type":"quantitative"},"y2":{"datum":100}}}]},
{"title":"pval of disp-DE genes,jsd_direct method","width":437,"height":437,"layer":[
{"data":{"name":"r3c3"},"mark":{"type":"rect","fill":"white","stroke":"black","strokeWidth":1},"encoding":{"x":{"field":"lo","type":"quantitative","scale":{"domain":[-0.04,1.04],"nice":false,"zero":false},"axis":{"values":[0,0.2,0.4,0.6,0.8,1],"format":".1f","title":"p-values"}},"x2":{"field":"hi"},"y":{"field":"n","type":"quantitative","scale":{"domain":[-1.08,28.08],"nice":false,"zero":false},"axis":{"values":[0,5,10,15,20,25],"format":"d","title":"Frequency"}},"y2":{"datum":0}}},
{"data":{"values":[{}]},"mark":{"type":"rule","color":"black","strokeWidth":1},"encoding":{"x":{"datum":0,"type":"quantitative"},"x2":{"datum":1},"y":{"datum":-1.08,"type":"quantitative"}}},
{"data":{"values":[{}]},"mark":{"type":"rule","color":"black","strokeWidth":1},"encoding":{"x":{"datum":-0.04,"type":"quantitative"},"y":{"datum":0,"type":"quantitative"},"y2":{"datum":25}}}]},
{"title":"pval of mult-DE genes,jsd_direct method","width":437,"height":437,"layer":[
{"data":{"name":"r3c4"},"mark":{"type":"rect","fill":"white","stroke":"black","strokeWidth":1},"encoding":{"x":{"field":"lo","type":"quantitative","scale":{"domain":[-0.04,1.04],"nice":false,"zero":false},"axis":{"values":[0,0.2,0.4,0.6,0.8,1],"format":".1f","title":"p-values"}},"x2":{"field":"hi"},"y":{"field":"n","type":"quantitative","scale":{"domain":[-11.56,300.56],"nice":false,"zero":false},"axis":{"values":[0,50,100,150,200,250,300],"format":"d","title":"Frequency"}},"y2":{"datum":0}}},
{"data":{"values":[{}]},"mark":{"type":"rule","color":"black","strokeWidth":1},"encoding":{"x":{"datum":0,"type":"quantitative"},"x2":{"datum":1},"y":{"datum":-11.56,"type":"quantitative"}}},
{"data":{"values":[{}]},"mark":{"type":"rule","color":"black","strokeWidth":1},"encoding":{"x":{"datum":-0.04,"type":"quantitative"},"y":{"datum":0,"type":"quantitative"},"y2":{"datum":300}}}]},
{"title":"pval of non-DE genes,jsd_direct method","width":437,"height":437,"layer":[
{"data":{"name":"r3c5"},"mark":{"type":"rect","fill":"white","stroke":"black","strokeWidth":1},"encoding":{"x":{"field":"lo","type":"quantitative","scale":{"domain":[-0.04,1.04],"nice":false,"zero":false},"axis":{"values":[0,0.2,0.4,0.6,0.8,1],"format":".1f","title":"p-values"}},"x2":{"field":"hi"},"y":{"field":"n","type":"quantitative","scale":{"domain":[-6.76,175.76],"nice":false,"zero":false},"axis":{"values":[0,50,100,150],"format":"d","title":"Frequency"}},"y2":{"datum":0}}},
{"data":{"values":[{}]},"mark":{"type":"rule","color":"black","strokeWidth":1},"encoding":{"x":{"datum":0,"type":"quantitative"},"x2":{"datum":1},"y":{"datum":-6.76,"type":"quantitative"}}},
{"data":{"values":[{}]},"mark":{"type":"rule","color":"black","strokeWidth":1},"encoding":{"x":{"datum":-0.04,"type":"quantitative"},"y":{"datum":0,"type":"quantitative"},"y2":{"datum":150}}}]},

{"title":"pval of mean-DE genes,klmean_direct method","width":437,"height":437,"layer":[
{"data":{"name":"r4c1"},"mark":{"type":"rect","fill":"white","stroke":"black","strokeWidth":1},"encoding":{"x":{"field":"lo","type":"quantitative","scale":{"domain":[-0.04,1.04],"nice":false,"zero":false},"axis":{"values":[0,0.2,0.4,0.6,0.8,1],"format":".1f","title":"p-values"}},"x2":{"field":"hi"},"y":{"field":"n","type":"quantitative","scale":{"domain":[-3.84,99.84],"nice":false,"zero":false},"axis":{"values":[0,20,40,60,80],"format":"d","title":"Frequency"}},"y2":{"datum":0}}},
{"data":{"values":[{}]},"mark":{"type":"rule","color":"black","strokeWidth":1},"encoding":{"x":{"datum":0,"type":"quantitative"},"x2":{"datum":1},"y":{"datum":-3.84,"type":"quantitative"}}},
{"data":{"values":[{}]},"mark":{"type":"rule","color":"black","strokeWidth":1},"encoding":{"x":{"datum":-0.04,"type":"quantitative"},"y":{"datum":0,"type":"quantitative"},"y2":{"datum":80}}}]},
{"title":"pval of var-DE genes,klmean_direct method","width":437,"height":437,"layer":[
{"data":{"name":"r4c2"},"mark":{"type":"rect","fill":"white","stroke":"black","strokeWidth":1},"encoding":{"x":{"field":"lo","type":"quantitative","scale":{"domain":[-0.04,1.04],"nice":false,"zero":false},"axis":{"values":[0,0.2,0.4,0.6,0.8,1],"format":".1f","title":"p-values"}},"x2":{"field":"hi"},"y":{"field":"n","type":"quantitative","scale":{"domain":[-4.08,106.08],"nice":false,"zero":false},"axis":{"values":[0,20,40,60,80,100],"format":"d","title":"Frequency"}},"y2":{"datum":0}}},
{"data":{"values":[{}]},"mark":{"type":"rule","color":"black","strokeWidth":1},"encoding":{"x":{"datum":0,"type":"quantitative"},"x2":{"datum":1},"y":{"datum":-4.08,"type":"quantitative"}}},
{"data":{"values":[{}]},"mark":{"type":"rule","color":"black","strokeWidth":1},"encoding":{"x":{"datum":-0.04,"type":"quantitative"},"y":{"datum":0,"type":"quantitative"},"y2":{"datum":100}}}]},
{"title":"pval of disp-DE genes,klmean_direct method","width":437,"height":437,"layer":[
{"data":{"name":"r4c3"},"mark":{"type":"rect","fill":"white","stroke":"black","strokeWidth":1},"encoding":{"x":{"field":"lo","type":"quantitative","scale":{"domain":[-0.04,1.04],"nice":false,"zero":false},"axis":{"values":[0,0.2,0.4,0.6,0.8,1],"format":".1f","title":"p-values"}},"x2":{"field":"hi"},"y":{"field":"n","type":"quantitative","scale":{"domain":[-1,26],"nice":false,"zero":false},"axis":{"values":[0,5,10,15,20,25],"format":"d","title":"Frequency"}},"y2":{"datum":0}}},
{"data":{"values":[{}]},"mark":{"type":"rule","color":"black","strokeWidth":1},"encoding":{"x":{"datum":0,"type":"quantitative"},"x2":{"datum":1},"y":{"datum":-1,"type":"quantitative"}}},
{"data":{"values":[{}]},"mark":{"type":"rule","color":"black","strokeWidth":1},"encoding":{"x":{"datum":-0.04,"type":"quantitative"},"y":{"datum":0,"type":"quantitative"},"y2":{"datum":25}}}]},
{"title":"pval of mult-DE genes,klmean_direct method","width":437,"height":437,"layer":[
{"data":{"name":"r4c4"},"mark":{"type":"rect","fill":"white","stroke":"black","strokeWidth":1},"encoding":{"x":{"field":"lo","type":"quantitative","scale":{"domain":[-0.032,0.832],"nice":false,"zero":false},"axis":{"values":[0,0.2,0.4,0.6,0.8],"format":".1f","title":"p-values"}},"x2":{"field":"hi"},"y":{"field":"n","type":"quantitative","scale":{"domain":[-11.72,304.72],"nice":false,"zero":false},"axis":{"values":[0,50,100,150,200,250,300],"format":"d","title":"Frequency"}},"y2":{"datum":0}}},
{"data":{"values":[{}]},"mark":{"type":"rule","color":"black","strokeWidth":1},"encoding":{"x":{"datum":0,"type":"quantitative"},"x2":{"datum":0.8},"y":{"datum":-11.72,"type":"quantitative"}}},
{"data":{"values":[{}]},"mark":{"type":"rule","color":"black","strokeWidth":1},"encoding":{"x":{"datum":-0.032,"type":"quantitative"},"y":{"datum":0,"type":"quantitative"},"y2":{"datum":300}}}]},
{"title":"pval of non-DE genes,klmean_direct method","width":437,"height":437,"layer":[
{"data":{"name":"r4c5"},"mark":{"type":"rect","fill":"white","stroke":"black","strokeWidth":1},"encoding":{"x":{"field":"lo","type":"quantitative","scale":{"domain":[-0.04,1.04],"nice":false,"zero":false},"axis":{"values":[0,0.2,0.4,0.6,0.8,1],"format":".1f","title":"p-values"}},"x2":{"field":"hi"},"y":{"field":"n","type":"quantitative","scale":{"domain":[-6.24,162.24],"nice":false,"zero":false},"axis":{"values":[0,50,100,150],"format":"d","title":"Frequency"}},"y2":{"datum":0}}},
{"data":{"values":[{}]},"mark":{"type":"rule","color":"black","strokeWidth":1},"encoding":{"x":{"datum":0,"type":"quantitative"},"x2":{"datum":1},"y":{"datum":-6.24,"type":"quantitative"}}},
{"data":{"values":[{}]},"mark":{"type":"rule","color":"black","strokeWidth":1},"encoding":{"x":{"datum":-0.04,"type":"quantitative"},"y":{"datum":0,"type":"quantitative"},"y2":{"datum":150}}}]},

{"title":"pval of mean-DE genes,deseq2 method","width":437,"height":437,"layer":[
{"data":{"name":"r5c1"},"mark":{"type":"rect","fill":"white","stroke":"black","strokeWidth":1},"encoding":{"x":{"field":"lo","type":"quantitative","scale":{"domain":[-0.04,1.04],"nice":false,"zero":false},"axis":{"values":[0,0.2,0.4,0.6,0.8,1],"format":".1f","title":"p-values"}},"x2":{"field":"hi"},"y":{"field":"n","type":"quantitative","scale":{"domain":[-6.64,172.64],"nice":false,"zero":false},"axis":{"values":[0,50,100,150],"format":"d","title":"Frequency"}},"y2":{"datum":0}}},
{"data":{"values":[{}]},"mark":{"type":"rule","color":"black","strokeWidth":1},"encoding":{"x":{"datum":0,"type":"quantitative"},"x2":{"datum":1},"y":{"datum":-6.64,"type":"quantitative"}}},
{"data":{"values":[{}]},"mark":{"type":"rule","color":"black","strokeWidth":1},"encoding":{"x":{"datum":-0.04,"type":"quantitative"},"y":{"datum":0,"type":"quantitative"},"y2":{"datum":150}}}]},
{"title":"pval of var-DE genes,deseq2 method","width":437,"height":437,"layer":[
{"data":{"name":"r5c2"},"mark":{"type":"rect","fill":"white","stroke":"black","strokeWidth":1},"encoding":{"x":{"field":"lo","type":"quantitative","scale":{"domain":[-0.04,1.04],"nice":false,"zero":false},"axis":{"values":[0,0.2,0.4,0.6,0.8,1],"format":".1f","title":"p-values"}},"x2":{"field":"hi"},"y":{"field":"n","type":"quantitative","scale":{"domain":[-1.6,41.6],"nice":false,"zero":false},"axis":{"values":[0,10,20,30,40],"format":"d","title":"Frequency"}},"y2":{"datum":0}}},
{"data":{"values":[{}]},"mark":{"type":"rule","color":"black","strokeWidth":1},"encoding":{"x":{"datum":0,"type":"quantitative"},"x2":{"datum":1},"y":{"datum":-1.6,"type":"quantitative"}}},
{"data":{"values":[{}]},"mark":{"type":"rule","color":"black","strokeWidth":1},"encoding":{"x":{"datum":-0.04,"type":"quantitative"},"y":{"datum":0,"type":"quantitative"},"y2":{"datum":40}}}]},
{"title":"pval of disp-DE genes,deseq2 method","width":437,"height":437,"layer":[
{"data":{"name":"r5c3"},"mark":{"type":"rect","fill":"white","stroke":"black","strokeWidth":1},"encoding":{"x":{"field":"lo","type":"quantitative","scale":{"domain":[-0.04,1.04],"nice":false,"zero":false},"axis":{"values":[0,0.2,0.4,0.6,0.8,1],"format":".1f","title":"p-values"}},"x2":{"field":"hi"},"y":{"field":"n","type":"quantitative","scale":{"domain":[-1.44,37.44],"nice":false,"zero":false},"axis":{"values":[0,5,10,15,20,25,30,35],"format":"d","title":"Frequency"}},"y2":{"datum":0}}},
{"data":{"values":[{}]},"mark":{"type":"rule","color":"black","strokeWidth":1},"encoding":{"x":{"datum":0,"type":"quantitative"},"x2":{"datum":1},"y":{"datum":-1.44,"type":"quantitative"}}},
{"data":{"values":[{}]},"mark":{"type":"rule","color":"black","strokeWidth":1},"encoding":{"x":{"datum":-0.04,"type":"quantitative"},"y":{"datum":0,"type":"quantitative"},"y2":{"datum":35}}}]},
{"title":"pval of mult-DE genes,deseq2 method","width":437,"height":437,"layer":[
{"data":{"name":"r5c4"},"mark":{"type":"rect","fill":"white","stroke":"black","strokeWidth":1},"encoding":{"x":{"field":"lo","type":"quantitative","scale":{"domain":[-0.028,0.728],"nice":false,"zero":false},"axis":{"values":[0,0.1,0.2,0.3,0.4,0.5,0.6,0.7],"format":".1f","title":"p-values"}},"x2":{"field":"hi"},"y":{"field":"n","type":"quantitative","scale":{"domain":[-11.76,305.76],"nice":false,"zero":false},"axis":{"values":[0,50,100,150,200,250,300],"format":"d","title":"Frequency"}},"y2":{"datum":0}}},
{"data":{"values":[{}]},"mark":{"type":"rule","color":"black","strokeWidth":1},"encoding":{"x":{"datum":0,"type":"quantitative"},"x2":{"datum":0.7},"y":{"datum":-11.76,"type":"quantitative"}}},
{"data":{"values":[{}]},"mark":{"type":"rule","color":"black","strokeWidth":1},"encoding":{"x":{"datum":-0.028,"type":"quantitative"},"y":{"datum":0,"type":"quantitative"},"y2":{"datum":300}}}]},
{"title":"pval of non-DE genes,deseq2 method","width":437,"height":437,"layer":[
{"data":{"name":"r5c5"},"mark":{"type":"rect","fill":"white","stroke":"black","strokeWidth":1},"encoding":{"x":{"field":"lo","type":"quantitative","scale":{"domain":[-0.04,1.04],"nice":false,"zero":false},"axis":{"values":[0,0.2,0.4,0.6,0.8,1],"format":".1f","title":"p-values"}},"x2":{"field":"hi"},"y":{"field":"n","type":"quantitative","scale":{"domain":[-9.52,247.52],"nice":false,"zero":false},"axis":{"values":[0,50,100,150,200],"format":"d","title":"Frequency"}},"y2":{"datum":0}}},
{"data":{"values":[{}]},"mark":{"type":"rule","color":"black","strokeWidth":1},"encoding":{"x":{"datum":0,"type":"quantitative"},"x2":{"datum":1},"y":{"datum":-9.52,"type":"quantitative"}}},
{"data":{"values":[{}]},"mark":{"type":"rule","color":"black","strokeWidth":1},"encoding":{"x":{"datum":-0.04,"type":"quantitative"},"y":{"datum":0,"type":"quantitative"},"y2":{"datum":200}}}]},

{"title":"pval of mean-DE genes,MAST method","width":437,"height":437,"layer":[
{"data":{"name":"r6c1"},"mark":{"type":"rect","fill":"white","stroke":"black","strokeWidth":1},"encoding":{"x":{"field":"lo","type":"quantitative","scale":{"domain":[-0.038,0.988],"nice":false,"zero":false},"axis":{"values":[0,0.2,0.4,0.6,0.8],"format":".1f","title":"p-values"}},"x2":{"field":"hi"},"y":{"field":"n","type":"quantitative","scale":{"domain":[-8.4,218.4],"nice":false,"zero":false},"axis":{"values":[0,50,100,150,200],"format":"d","title":"Frequency"}},"y2":{"datum":0}}},
{"data":{"values":[{}]},"mark":{"type":"rule","color":"black","strokeWidth":1},"encoding":{"x":{"datum":0,"type":"quantitative"},"x2":{"datum":0.8},"y":{"datum":-8.4,"type":"quantitative"}}},
{"data":{"values":[{}]},"mark":{"type":"rule","color":"black","strokeWidth":1},"encoding":{"x":{"datum":-0.038,"type":"quantitative"},"y":{"datum":0,"type":"quantitative"},"y2":{"datum":200}}}]},
{"title":"pval of var-DE genes,MAST method","width":437,"height":437,"layer":[
{"data":{"name":"r6c2"},"mark":{"type":"rect","fill":"white","stroke":"black","strokeWidth":1},"encoding":{"x":{"field":"lo","type":"quantitative","scale":{"domain":[-0.04,1.04],"nice":false,"zero":false},"axis":{"values":[0,0.2,0.4,0.6,0.8,1],"format":".1f","title":"p-values"}},"x2":{"field":"hi"},"y":{"field":"n","type":"quantitative","scale":{"domain":[-5.56,144.56],"nice":false,"zero":false},"axis":{"values":[0,20,40,60,80,100,120,140],"format":"d","title":"Frequency"}},"y2":{"datum":0}}},
{"data":{"values":[{}]},"mark":{"type":"rule","color":"black","strokeWidth":1},"encoding":{"x":{"datum":0,"type":"quantitative"},"x2":{"datum":1},"y":{"datum":-5.56,"type":"quantitative"}}},
{"data":{"values":[{}]},"mark":{"type":"rule","color":"black","strokeWidth":1},"encoding":{"x":{"datum":-0.04,"type":"quantitative"},"y":{"datum":0,"type":"quantitative"},"y2":{"datum":140}}}]},
{"title":"pval of disp-DE genes,MAST method","width":437,"height":437,"layer":[
{"data":{"name":"r6c3"},"mark":{"type":"rect","fill":"white","stroke":"black","strokeWidth":1},"encoding":{"x":{"field":"lo","type":"quantitative","scale":{"domain":[-0.04,1.04],"nice":false,"zero":false},"axis":{"values":[0,0.2,0.4,0.6,0.8,1],"format":".1f","title":"p-values"}},"x2":{"field":"hi"},"y":{"field":"n","type":"quantitative","scale":{"domain":[-0.88,22.88],"nice":false,"zero":false},"axis":{"values":[0,5,10,15,20],"format":"d","title":"Frequency"}},"y2":{"datum":0}}},
{"data":{"values":[{}]},"mark":{"type":"rule","color":"black","strokeWidth":1},"encoding":{"x":{"datum":0,"type":"quantitative"},"x2":{"datum":1},"y":{"datum":-0.88,"type":"quantitative"}}},
{"data":{"values":[{}]},"mark":{"type":"rule","color":"black","strokeWidth":1},"encoding":{"x":{"datum":-0.04,"type":"quantitative"},"y":{"datum":0,"type":"quantitative"},"y2":{"datum":20}}}]},
{"title":"pval of mult-DE genes,MAST method","width":437,"height":437,"layer":[
{"data":{"name":"r6c4"},"mark":{"type":"rect","fill":"white","stroke":"black","strokeWidth":1},"encoding":{"x":{"field":"lo","type":"quantitative","scale":{"domain":[-0.001,0.026],"nice":false,"zero":false},"axis":{"values":[0,0.005,0.01,0.015,0.02,0.025],"format":".3f","title":"p-values"}},"x2":{"field":"hi"},"y":{"field":"n","type":"quantitative","scale":{"domain":[-11.52,299.52],"nice":false,"zero":false},"axis":{"values":[0,50,100,150,200,250],"format":"d","title":"Frequency"}},"y2":{"datum":0}}},
{"data":{"values":[{}]},"mark":{"type":"rule","color":"black","strokeWidth":1},"encoding":{"x":{"datum":0,"type":"quantitative"},"x2":{"datum":0.025},"y":{"datum":-11.52,"type":"quantitative"}}},
{"data":{"values":[{}]},"mark":{"type":"rule","color":"black","strokeWidth":1},"encoding":{"x":{"datum":-0.001,"type":"quantitative"},"y":{"datum":0,"type":"quantitative"},"y2":{"datum":250}}}]},
{"title":"pval of non-DE genes,MAST method","width":437,"height":437,"layer":[
{"data":{"name":"r6c5"},"mark":{"type":"rect","fill":"white","stroke":"black","strokeWidth":1},"encoding":{"x":{"field":"lo","type":"quantitative","scale":{"domain":[-0.04,1.04],"nice":false,"zero":false},"axis":{"values":[0,0.2,0.4,0.6,0.8,1],"format":".1f","title":"p-values"}},"x2":{"field":"hi"},"y":{"field":"n","type":"quantitative","scale":{"domain":[-6.92,179.92],"nice":false,"zero":false},"axis":{"values":[0,50,100,150],"format":"d","title":"Frequency"}},"y2":{"datum":0}}},
{"data":{"values":[{}]},"mark":{"type":"rule","color":"black","strokeWidth":1},"encoding":{"x":{"datum":0,"type":"quantitative"},"x2":{"datum":1},"y":{"datum":-6.92,"type":"quantitative"}}},
{"data":{"values":[{}]},"mark":{"type":"rule","color":"black","strokeWidth":1},"encoding":{"x":{"datum":-0.04,"type":"quantitative"},"y":{"datum":0,"type":"quantitative"},"y2":{"datum":150}}}]}
],
"config": {
"view": {"stroke": null},
"font": "Liberation Sans",
"title": {"font": "Liberation Sans", "fontSize": 8.2, "fontWeight": "bold", "color": "black", "anchor": "middle", "frame": "group", "baseline": "bottom", "offset": 12},
"axis": {"domain": false, "grid": false, "ticks": true, "tickColor": "black", "tickSize": 4, "tickWidth": 1, "labelFont": "Liberation Sans", "labelFontSize": 7, "labelColor": "black", "labelPadding": 4, "labelFlush": false, "labelOverlap": false, "titleFont": "Liberation Sans", "titleFontSize": 7, "titleFontWeight": "normal", "titleColor": "black"},
"axisX": {"titlePadding": 10},
"axisY": {"labelAngle": 270, "labelAlign": "center", "labelBaseline": "bottom", "titlePadding": 8}
}
}
